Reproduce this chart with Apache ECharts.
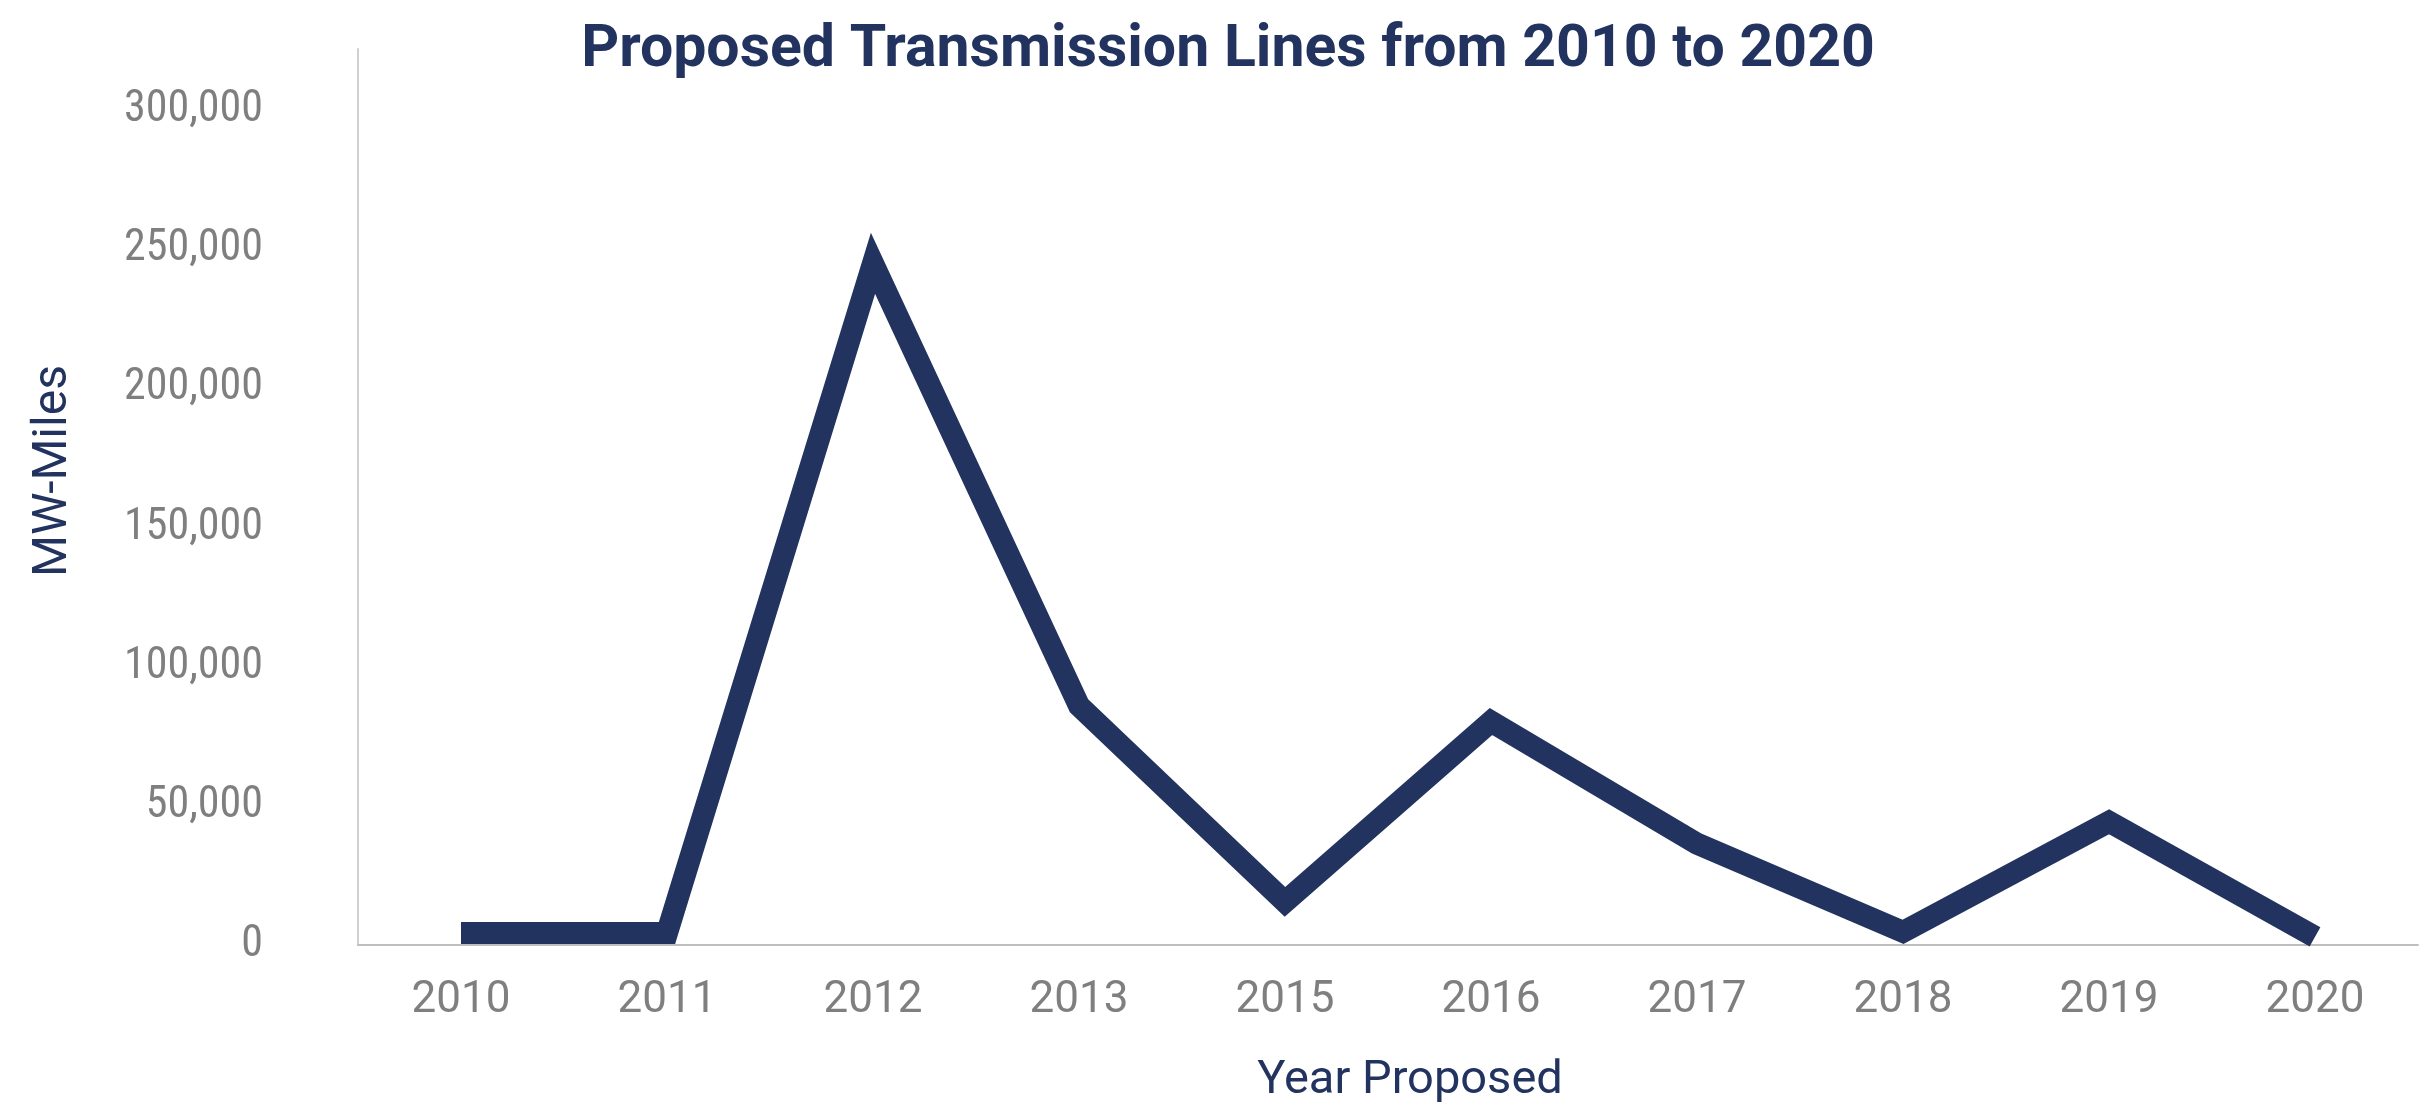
<!DOCTYPE html>
<html>
<head>
<meta charset="utf-8">
<title>Proposed Transmission Lines from 2010 to 2020</title>
<script src="https://cdn.jsdelivr.net/npm/echarts@6/dist/echarts.min.js"></script>
<style>
  html, body { margin: 0; padding: 0; background: #ffffff; }
  #chart { width: 2423px; height: 1111px; }
</style>
</head>
<body>
<div id="chart"></div>
<script>
// Proposed transmission capacity by year (MW-miles)
const years = ['2010', '2011', '2012', '2013', '2015', '2016', '2017', '2018', '2019', '2020'];
const mwMiles = [4300, 4300, 245000, 86000, 15500, 80300, 36400, 4700, 44300, 2900];
const yTicks = [0, 50000, 100000, 150000, 200000, 250000, 300000];

const navy = '#22335F';
const grey = '#7F7F7F';

const chart = echarts.init(document.getElementById('chart'), null, { renderer: 'canvas' });

chart.setOption({
  backgroundColor: '#ffffff',
  animation: false,
  title: {
    text: 'Proposed Transmission Lines from 2010 to 2020',
    left: 1223,
    top: 46,
    textAlign: 'center',
    textVerticalAlign: 'middle',
    textStyle: {
      fontFamily: 'Roboto',
      fontWeight: 'bold',
      fontSize: 59,
      color: navy
    }
  },
  grid: {
    left: 358,
    right: 5,
    top: 49,
    bottom: 166,
    containLabel: false,
    outerBoundsMode: 'none'
  },
  xAxis: {
    type: 'category',
    data: years,
    boundaryGap: true,
    name: 'Year Proposed',
    nameLocation: 'middle',
    nameGap: 113,
    nameTextStyle: {
      fontFamily: 'Roboto',
      fontSize: 47,
      color: navy,
      padding: [0, 0, 0, 44]
    },
    axisLine: { show: true, lineStyle: { color: '#BFBFBF', width: 2 } },
    axisTick: { show: false },
    axisLabel: {
      fontFamily: 'Roboto',
      fontSize: 44,
      color: grey,
      margin: 34
    },
    splitLine: { show: false }
  },
  yAxis: {
    type: 'value',
    min: 0,
    max: 322000,
    interval: 50000,
    name: 'MW-Miles',
    nameLocation: 'middle',
    nameRotate: 90,
    nameGap: 280,
    nameTextStyle: {
      fontFamily: 'Roboto',
      fontSize: 48,
      color: navy,
      padding: [0, 0, 0, 52]
    },
    axisLine: { show: true, lineStyle: { color: '#D0D0D0', width: 2 } },
    axisTick: { show: false },
    splitLine: { show: false },
    axisLabel: {
      fontFamily: "'Roboto Condensed', 'Liberation Sans Narrow', 'DejaVu Sans Condensed', Roboto",
      fontSize: 44,
      color: grey,
      margin: 95,
      showMaxLabel: false,
      formatter: function (v) {
        return yTicks.indexOf(v) >= 0 ? v.toLocaleString('en-US') : '';
      }
    }
  },
  series: [{
    type: 'line',
    data: mwMiles,
    symbol: 'none',
    smooth: false,
    lineStyle: {
      color: navy,
      width: 22,
      cap: 'butt',
      join: 'miter'
    }
  }]
});
</script>
</body>
</html>
